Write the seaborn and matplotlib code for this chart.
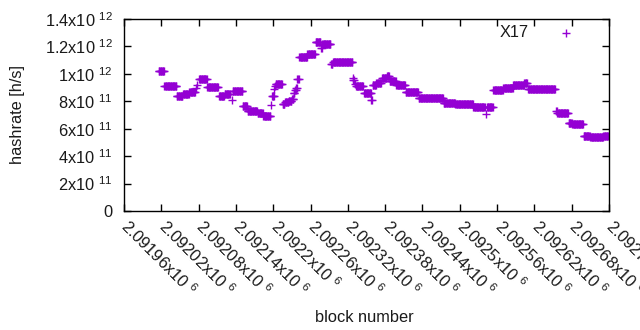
import numpy as np
import pandas as pd
import matplotlib
matplotlib.use("Agg")
import matplotlib.pyplot as plt
import matplotlib.transforms as mtransforms
import seaborn as sns

# Runs of constant hashrate: first block, last block, value (x1e11 h/s)
run_start = [2092016, 2092025, 2092045, 2092055, 2092065, 2092076, 2092078, 2092081,
             2092094, 2092113, 2092122, 2092133, 2092135, 2092151, 2092159, 2092175,
             2092184, 2092196, 2092198, 2092202, 2092203, 2092204, 2092215, 2092219,
             2092225, 2092230, 2092233, 2092235, 2092237, 2092239, 2092242, 2092255,
             2092268, 2092277, 2092279, 2092293, 2092296, 2092328, 2092329, 2092331,
             2092333, 2092346, 2092358, 2092360, 2092366, 2092375, 2092383, 2092387,
             2092398, 2092413, 2092434, 2092474, 2092493, 2092522, 2092542, 2092544,
             2092554, 2092570, 2092586, 2092604, 2092610, 2092655, 2092657, 2092675,
             2092681, 2092699, 2092710, 2092721, 2092731]
run_end = [2092024, 2092044, 2092054, 2092064, 2092074, 2092076, 2092078, 2092093,
           2092111, 2092121, 2092130, 2092133, 2092150, 2092158, 2092174, 2092183,
           2092195, 2092196, 2092201, 2092202, 2092203, 2092214, 2092218, 2092224,
           2092229, 2092232, 2092234, 2092236, 2092238, 2092241, 2092254, 2092267,
           2092276, 2092278, 2092292, 2092295, 2092327, 2092328, 2092330, 2092331,
           2092344, 2092357, 2092359, 2092365, 2092373, 2092382, 2092386, 2092397,
           2092412, 2092433, 2092473, 2092492, 2092521, 2092540, 2092542, 2092553,
           2092569, 2092585, 2092603, 2092608, 2092653, 2092656, 2092674, 2092680,
           2092698, 2092709, 2092720, 2092730, 2092738]
run_value_e11 = [10.2, 9.14, 8.4, 8.5, 8.65, 9.0, 9.2, 9.66,
                 9.04, 8.4, 8.53, 8.1, 8.75, 7.69, 7.29, 7.15,
                 6.93, 7.7, 8.4, 8.9, 9.1, 9.26, 7.8, 7.95,
                 8.05, 8.2, 8.6, 8.8, 9.0, 9.6, 11.2, 11.45,
                 12.35, 11.86, 12.18, 10.7, 10.84, 9.67, 9.55, 9.24,
                 9.11, 8.58, 8.1, 9.2, 9.35, 9.72, 9.84, 9.48,
                 9.19, 8.65, 8.22, 7.85, 7.78, 7.56, 7.07, 7.6,
                 8.82, 8.95, 9.19, 9.36, 8.87, 7.29, 7.12, 6.44,
                 6.34, 5.5, 5.4, 5.4, 5.5]

x_ticks = [2091960 + 60 * k for k in range(14)]
y_ticks = [0, 2e11, 4e11, 6e11, 8e11, 1e12, 1.2e12, 1.4e12]
series_label = "X17"

blocks, rates = [], []
for s, e, v in zip(run_start, run_end, run_value_e11):
    for b in range(s, e + 1):
        blocks.append(b)
        rates.append(v * 1e11)
df = pd.DataFrame({"block": blocks, "hashrate": rates})

sns.set_theme(style="white")
plt.rcParams["font.family"] = ["Liberation Sans", "DejaVu Sans"]
plt.rcParams["mathtext.fontset"] = "custom"
plt.rcParams["mathtext.rm"] = "Liberation Sans"
plt.rcParams["mathtext.it"] = "Liberation Sans:italic"
plt.rcParams["mathtext.bf"] = "Liberation Sans:bold"

FS = 11.8
TXT = "#1a1a1a"

fig = plt.figure(figsize=(6.4, 3.3), dpi=100)
ax = fig.add_axes([124 / 640, 1 - 211 / 330, 485 / 640, 192 / 330])

sns.scatterplot(data=df, x="block", y="hashrate", marker="+", color="#9400D3",
                s=28, linewidth=1.0, ax=ax, label=series_label, legend=True)

ax.set_xlim(x_ticks[0], x_ticks[-1])
ax.set_ylim(0, 1.4e12)


def sci_label(v):
    if v == 0:
        return "0"
    exp = int(np.floor(np.log10(v)))
    mant = v / 10 ** exp
    m = f"{mant:g}"
    return f"{m}x10 $^{{{exp}}}$"


ax.set_yticks(y_ticks)
ax.set_yticklabels([sci_label(v) for v in y_ticks], fontsize=FS, color=TXT)
ax.set_xticks(x_ticks)
ax.set_xticklabels([f"{v / 1e6:g}x10 $^{{6}}$" for v in x_ticks], fontsize=FS,
                   rotation=-45, ha="left", va="top", rotation_mode="anchor",
                   color=TXT)

ax.tick_params(axis="both", direction="in", length=5, width=1, color="black",
               top=True, right=True, bottom=True, left=True)
ax.tick_params(axis="y", pad=8)
ax.tick_params(axis="x", pad=4)
shift = mtransforms.ScaledTranslation(7 / 100, 0, fig.dpi_scale_trans)
for lab in ax.get_xticklabels():
    lab.set_transform(lab.get_transform() + shift)

for sp in ax.spines.values():
    sp.set_visible(True)
    sp.set_color("black")
    sp.set_linewidth(1.0)

ax.set_xlabel("block number", fontsize=FS, color=TXT)
ax.set_ylabel("hashrate [h/s]", fontsize=FS, color=TXT)
ax.xaxis.set_label_coords(0.495, -0.515)
ax.yaxis.set_label_coords(-0.205, 0.5)

leg = ax.legend(loc="upper right", bbox_to_anchor=(0.961, 0.968), frameon=False,
                markerfirst=False, handlelength=3, handletextpad=0.75,
                borderaxespad=0, borderpad=0, fontsize=FS)
for t in leg.get_texts():
    t.set_color(TXT)

fig.savefig("out.png", dpi=100, facecolor="white")
